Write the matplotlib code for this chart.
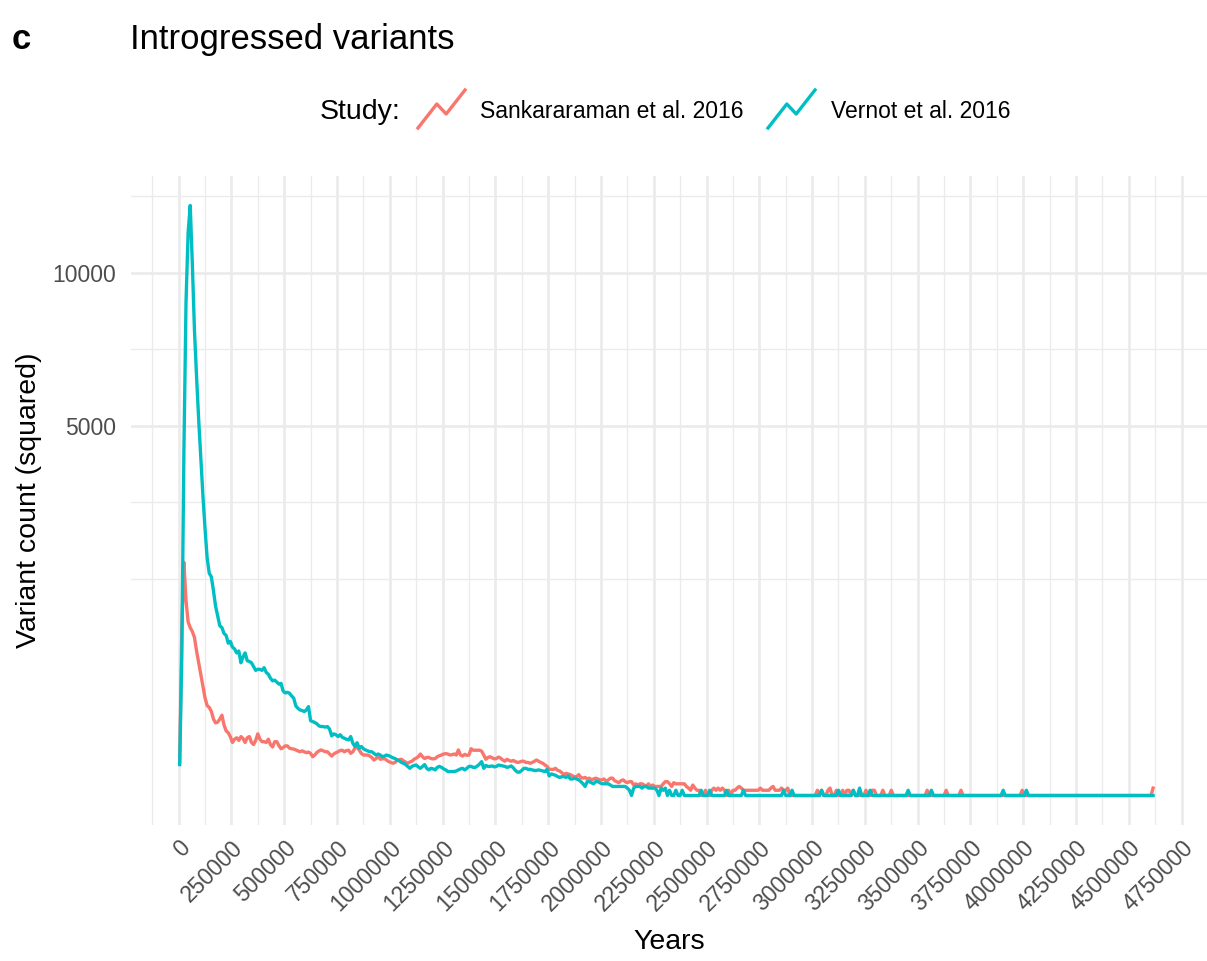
import numpy as np
import matplotlib.pyplot as plt
from matplotlib.lines import Line2D

# Introgressed variant counts per 10,000-year bin (bin centres at 5,000, 15,000, ...)
bin_width = 10000

sankararaman = [
    40, 1000, 1990, 1393, 1104, 1032, 984, 915, 764, 645,
    538, 439, 350, 296, 284, 259, 214, 193, 197, 214,
    236, 182, 153, 144, 127, 103, 116, 122, 111, 127,
    119, 103, 122, 127, 103, 95, 111, 139, 116, 106,
    106, 103, 116, 95, 86, 106, 106, 91, 80, 84,
    90, 90, 82, 80, 79, 76, 73, 70, 73, 70,
    67, 69, 65, 55, 60, 68, 73, 76, 73, 70,
    70, 63, 57, 63, 67, 70, 74, 75, 70, 74,
    75, 65, 70, 82, 86, 76, 65, 60, 60, 60,
    57, 53, 46, 50, 55, 48, 49, 50, 46, 42,
    40, 38, 40, 46, 47, 48, 44, 41, 38, 41,
    43, 48, 51, 55, 63, 55, 50, 53, 53, 50,
    49, 50, 55, 58, 60, 63, 64, 63, 60, 61,
    63, 60, 76, 60, 57, 62, 59, 60, 80, 75,
    75, 75, 75, 72, 60, 48, 53, 55, 52, 49,
    50, 54, 51, 46, 43, 48, 45, 43, 45, 42,
    40, 41, 43, 43, 40, 40, 38, 40, 43, 46,
    43, 40, 38, 34, 31, 25, 25, 25, 27, 23,
    22, 19, 16, 18, 17, 16, 14, 13, 13, 16,
    12, 11, 12, 10, 11, 9, 10, 11, 10, 9,
    9, 10, 7, 9, 11, 11, 8, 7, 6, 8,
    9, 7, 6, 7, 7, 4, 5, 4, 5, 5,
    4, 3, 5, 3, 4, 3, 3, 3, 3, 5,
    7, 7, 5, 3, 6, 5, 5, 5, 5, 5,
    3, 2, 1, 4, 2, 1, 1, 0, 0, 1,
    0, 0, 1, 2, 1, 2, 1, 2, 1, 0,
    1, 0, 1, 1, 2, 3, 2, 1, 1, 1,
    1, 1, 1, 1, 1, 2, 1, 1, 1, 1,
    2, 3, 1, 1, 1, 2, 1, 1, 2, 0,
    0, 0, 0, 0, 0, 0, 0, 0, 0, 0,
    0, 0, 1, 0, 1, 0, 0, 1, 2, 0,
    0, 1, 0, 0, 1, 0, 1, 1, 0, 1,
    0, 0, 0, 0, 0, 1, 0, 0, 1, 1,
    0, 0, 0, 1, 0, 0, 0, 1, 0, 0,
    0, 0, 0, 0, 0, 0, 0, 0, 0, 0,
    0, 0, 0, 0, 1, 0, 0, 0, 0, 0,
    0, 0, 0, 1, 0, 0, 0, 0, 0, 0,
    1, 0, 0, 0, 0, 0, 0, 0, 0, 0,
    0, 0, 0, 0, 0, 0, 0, 0, 0, 0,
    0, 0, 0, 0, 0, 0, 0, 0, 0, 1,
] + [0] * 60 + [0, 2]

vernot = [
    35, 700, 4300, 8900, 11600, 12740, 10340, 7935, 6420, 5175,
    4160, 3298, 2611, 2071, 1809, 1750, 1535, 1312, 1181, 1055,
    1032, 961, 938, 849, 869, 806, 786, 744, 764, 645,
    703, 744, 665, 657, 645, 609, 573, 583, 583, 573,
    598, 554, 538, 503, 481, 487, 470, 454, 460, 400,
    385, 390, 383, 363, 347, 294, 278, 268, 264, 258,
    268, 289, 205, 200, 195, 188, 177, 174, 174, 171,
    174, 161, 130, 139, 135, 127, 135, 124, 120, 116,
    113, 127, 100, 88, 102, 82, 88, 80, 76, 73,
    70, 70, 65, 60, 63, 60, 55, 57, 60, 58,
    55, 52, 50, 46, 44, 40, 38, 35, 31, 27,
    31, 33, 34, 30, 27, 31, 35, 27, 24, 27,
    26, 24, 29, 31, 29, 26, 24, 21, 21, 21,
    21, 22, 24, 26, 27, 24, 27, 31, 31, 29,
    29, 32, 36, 42, 27, 33, 31, 31, 32, 30,
    31, 34, 33, 32, 31, 29, 30, 32, 28, 23,
    20, 20, 23, 27, 27, 25, 25, 24, 23, 23,
    24, 23, 22, 21, 25, 14, 17, 16, 15, 13,
    12, 13, 13, 12, 14, 10, 10, 11, 10, 9,
    7, 5, 3, 7, 7, 6, 5, 7, 7, 6,
    5, 5, 5, 5, 4, 3, 3, 3, 3, 3,
    3, 3, 2, 1, 0, 2, 3, 3, 3, 2,
    3, 3, 2, 2, 2, 2, 1, 0, 2, 1,
    2, 0, 1, 0, 0, 1, 0, 0, 1, 0,
    0, 0, 0, 0, 0, 0, 0, 1, 0, 0,
    0, 1, 0, 0, 0, 0, 0, 0, 0, 1,
    0, 0, 0, 0, 0, 0, 0, 1, 0, 0,
    0, 0, 0, 0, 0, 0, 0, 0, 0, 0,
    0, 0, 0, 0, 0, 0, 1, 0, 0, 0,
    1, 0, 0, 0, 0, 0, 0, 0, 0, 0,
    0, 0, 0, 0, 1, 0, 0, 0, 0, 0,
    0, 0, 1, 0, 0, 0, 0, 0, 0, 1,
    0, 0, 2, 0, 0, 0, 0, 1, 0, 0,
    0, 0, 0, 0, 0, 0, 0, 0, 0, 0,
    0, 0, 0, 0, 0, 1, 0, 0, 0, 0,
    0, 0, 0, 0, 0, 0, 1, 0, 0, 0,
    0, 0, 0, 0, 0, 0, 0, 0, 0, 0,
    0, 0, 0, 0, 0, 0, 0, 0, 0, 0,
    0, 0, 0, 0, 0, 0, 0, 0, 0, 0,
    1, 0, 0, 0, 0, 0, 0, 0, 0, 0,
    0, 1, 0, 0, 0, 0, 0, 0, 0, 0,
] + [0] * 52

years = np.arange(len(vernot)) * bin_width + bin_width / 2

study_labels = ['Sankararaman et al. 2016', 'Vernot et al. 2016']
study_colors = ['#F8766D', '#00BFC4']

x_breaks = list(range(0, 4750001, 250000))
y_breaks = [5000, 10000]

W, H = 1207, 961
grid_col = '#EBEBEB'
tick_col = '#4D4D4D'
plt.rcParams['font.family'] = ['Liberation Sans', 'DejaVu Sans']


def fx(px):
    return px / W


def fy(py):
    return 1 - py / H


def sqrt_fwd(v):
    v = np.asarray(v, dtype=float)
    return np.sign(v) * np.sqrt(np.abs(v))


def sqrt_inv(v):
    v = np.asarray(v, dtype=float)
    return np.sign(v) * v ** 2


fig = plt.figure(figsize=(W / 100, H / 100), dpi=100)
ax = fig.add_axes([fx(131), fy(825), 1077 / W, 649 / H])
ax.set_yscale('function', functions=(sqrt_fwd, sqrt_inv))

for counts, col in zip([sankararaman, vernot], study_colors):
    ax.plot(years, counts, color=col, lw=2.4, solid_joinstyle='round', zorder=3)

# ggplot-style 5% expansion on x (linear) and y (sqrt space)
span = years.max() - years.min()
ax.set_xlim(years.min() - 0.05 * span, years.max() + 0.05 * span)
top = np.sqrt(max(max(vernot), max(sankararaman)))
ax.set_ylim(-(0.05 * top) ** 2, (1.05 * top) ** 2)

# x breaks and midpoint minor breaks
ax.set_xticks(x_breaks)
ax.set_xticklabels([str(v) for v in x_breaks])
x_minor = [b - 125000 for b in x_breaks] + [x_breaks[-1] + 125000]
ax.set_xticks(x_minor, minor=True)

# y minor breaks sit halfway between majors in sqrt space
s = np.sqrt(y_breaks)
d = s[1] - s[0]
s_minor = [s[0] - d, s[0] - d / 2, (s[0] + s[1]) / 2, s[1] + d / 2]
ax.set_yticks(y_breaks)
ax.set_yticklabels([str(v) for v in y_breaks])
ax.set_yticks([v ** 2 for v in s_minor], minor=True)

ax.grid(True, which='major', color=grid_col, lw=1.9, zorder=0)
ax.grid(True, which='minor', color=grid_col, lw=0.95, zorder=0)
ax.set_axisbelow(True)
for sp in ax.spines.values():
    sp.set_visible(False)

ax.tick_params(which='both', length=0)
ax.tick_params(axis='y', labelsize=16.5, labelcolor=tick_col, pad=11)
ax.tick_params(axis='x', labelsize=16.5, labelcolor=tick_col, pad=8)
for lab in ax.get_xticklabels():
    lab.set_rotation(45)
    lab.set_ha('right')
    lab.set_va('top')
    lab.set_rotation_mode('anchor')

ax.set_xlabel('Years', fontsize=20.5, labelpad=9.5)
ax.set_ylabel('Variant count (squared)', fontsize=20.5, labelpad=7)

# title and panel tag
fig.text(fx(130), fy(48.5), 'Introgressed variants', fontsize=24.9, va='baseline')
fig.text(fx(12), fy(49), 'c', fontsize=24.9, fontweight='bold', va='baseline')

# legend across the top with zig-zag keys
fig.text(fx(320), fy(119), 'Study:', fontsize=20.5, va='baseline')
key_x = [418, 768]
label_x = [480, 831]
for kx, lx, col, lab in zip(key_x, label_x, study_colors, study_labels):
    xs = [kx, kx + 0.4 * 47, kx + 0.6 * 47, kx + 47]
    ys = [128, 104, 114, 90]
    fig.add_artist(Line2D([fx(v) for v in xs], [fy(v) for v in ys],
                          color=col, lw=2.4, transform=fig.transFigure))
    fig.text(fx(lx), fy(118), lab, fontsize=16.5, va='baseline')

fig.savefig('out.png', dpi=100)
